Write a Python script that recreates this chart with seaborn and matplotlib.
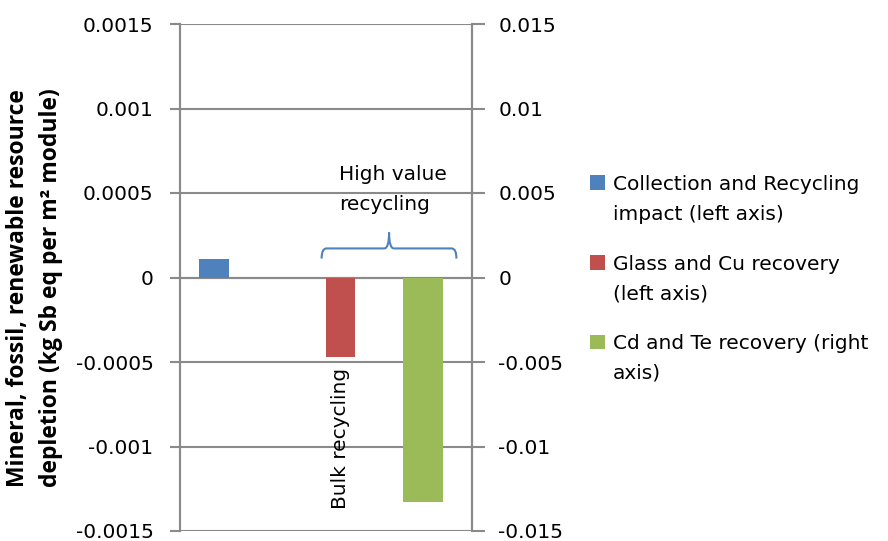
import numpy as np
import pandas as pd
import matplotlib.pyplot as plt
from matplotlib.path import Path
from matplotlib.patches import PathPatch, Patch, Rectangle
from matplotlib.legend_handler import HandlerPatch
import seaborn as sns

# data
categories = ["Collection", "Bulk recycling", "High value recycling"]
collection_impact = [0.00011, 0.0, 0.0]        # left axis
glass_cu_recovery = [0.0, -0.00047, 0.0]       # left axis
cd_te_recovery = [0.0, 0.0, -0.0133]           # right axis
series_names = ["Collection and Recycling\nimpact (left axis)",
                "Glass and Cu recovery\n(left axis)",
                "Cd and Te recovery (right\naxis)"]
left_ticks = [-0.0015, -0.001, -0.0005, 0, 0.0005, 0.001, 0.0015]
left_ticklabels = ["-0.0015", "-0.001", "-0.0005", "0", "0.0005", "0.001", "0.0015"]
right_ticks = [-0.015, -0.01, -0.005, 0, 0.005, 0.01, 0.015]
right_ticklabels = ["-0.015", "-0.01", "-0.005", "0", "0.005", "0.01", "0.015"]
colors = ["#4F81BD", "#C0504D", "#9BBB59"]

df_left = pd.DataFrame({
    "category": categories * 2,
    "series": [series_names[0]] * 3 + [series_names[1]] * 3,
    "value": collection_impact + glass_cu_recovery,
})
df_right = pd.DataFrame({"category": categories, "value": cd_te_recovery})

sns.set_style("white")
plt.rcParams["font.family"] = ["DejaVu Sans"]
plt.rcParams["text.color"] = "black"
grid_col = "#8a8a8a"
fs = 14.5

fig = plt.figure(figsize=(8.88, 5.41), dpi=100)
ax = fig.add_axes([180 / 888, 1 - 531 / 541, 292 / 888, 507 / 541])
ax2 = ax.twinx()

sns.barplot(data=df_left, x="category", y="value", hue="series", order=categories,
            palette=colors[:2], saturation=1, width=0.6, ax=ax, linewidth=0,
            legend=False, zorder=3)
sns.barplot(data=df_right, x="category", y="value", order=categories,
            color=colors[2], saturation=1, width=0.41, ax=ax2, linewidth=0, zorder=3)

ax.set_ylim(-0.0015, 0.0015)
ax2.set_ylim(-0.015, 0.015)
ax.set_xlim(-0.5, 2.5)
ax.set_yticks(left_ticks, left_ticklabels, fontsize=fs, color="black")
ax2.set_yticks(right_ticks, right_ticklabels, fontsize=fs, color="black")
ax.yaxis.grid(True, color=grid_col, linewidth=1.5)
ax.set_axisbelow(True)

for a in (ax, ax2):
    a.set_xlabel("")
    a.set_ylabel("")
    a.spines["top"].set_visible(False)
    for s in ("left", "right"):
        a.spines[s].set_color(grid_col)
        a.spines[s].set_linewidth(1.5)
ax.tick_params(axis="y", length=7, width=1.5, color=grid_col, pad=12)
ax2.tick_params(axis="y", length=9, width=1.5, color=grid_col, pad=10)
ax2.spines["bottom"].set_visible(False)

# category axis crossing at zero, ticks between categories
ax.spines["bottom"].set_position(("data", 0))
ax.spines["bottom"].set_color(grid_col)
ax.spines["bottom"].set_linewidth(1.5)
ax.set_xticks([0, 1, 2], ["", "", ""])
ax.set_xticks([0.5, 1.5], minor=True)
ax.tick_params(axis="x", which="major", length=0)
ax.tick_params(axis="x", which="minor", length=6, width=1.5, color=grid_col, direction="out")
ax2.set_xticks([])

ax.set_ylabel("Mineral, fossil, renewable resource\ndepletion (kg Sb eq per m\u00b2 module)",
              fontsize=16.5, fontweight="bold", family="Open Sans", linespacing=1.5,
              color="black")
ax.yaxis.set_label_coords(-0.40, 0.48)

# annotations
ax.text(1.148, -0.00095, "Bulk recycling", rotation=90, ha="center", va="center",
        fontsize=fs, color="black")
ax.text(1.13, 0.00052, "High value\nrecycling", ha="left", va="center", fontsize=fs,
        linespacing=1.75, color="black")
x0, x1, xt = 0.955, 2.34, 1.648
ye, yf, yt = 0.000112, 0.000172, 0.000266
d = 0.05
verts = [(x0, ye), (x0, yf), (x0 + d, yf), (xt - d, yf), (xt, yf), (xt, yt),
         (xt, yf), (xt + d, yf), (x1 - d, yf), (x1, yf), (x1, ye)]
codes = [Path.MOVETO, Path.CURVE3, Path.CURVE3, Path.LINETO, Path.CURVE3, Path.CURVE3,
         Path.CURVE3, Path.CURVE3, Path.LINETO, Path.CURVE3, Path.CURVE3]
ax.add_patch(PathPatch(Path(verts, codes), fill=False, edgecolor="#4F81BD", linewidth=1.5,
                       clip_on=False, zorder=4))


# legend square sits level with the first text line
def top_square(legend, orig_handle, xdescent, ydescent, width, height, fontsize):
    return Rectangle((-xdescent, -ydescent + 0.85 * fontsize), width, height)


handles = [Patch(facecolor=c, edgecolor="none") for c in colors]
leg = fig.legend(handles, series_names, loc="upper left",
                 bbox_to_anchor=(590 / 888, 1 - 175 / 541),
                 frameon=False, fontsize=fs, handlelength=0.75, handleheight=0.75,
                 handletextpad=0.4, labelspacing=1.55, borderaxespad=0, borderpad=0,
                 handler_map={Patch: HandlerPatch(patch_func=top_square)})
for t in leg.get_texts():
    t.set_linespacing(1.7)
    t.set_color("black")

fig.savefig("out.png", dpi=100)
